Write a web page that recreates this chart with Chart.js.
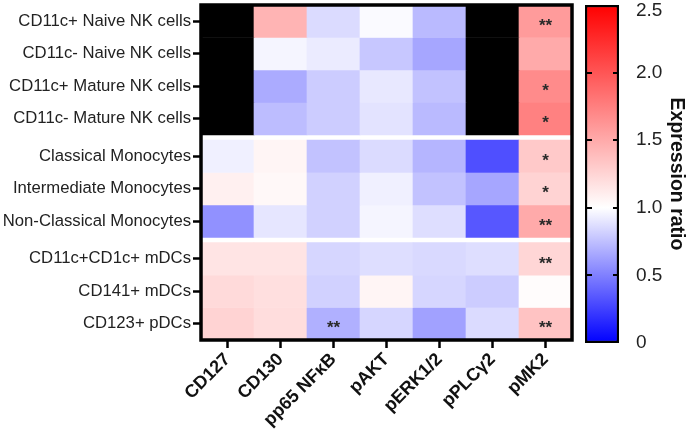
<!DOCTYPE html>
<html>
<head>
<meta charset="utf-8">
<script src="https://cdn.jsdelivr.net/npm/chart.js@4.4.1/dist/chart.umd.min.js"></script>
<style>
  html, body { margin:0; padding:0; background:#fff; }
  #wrap { position:relative; width:688px; height:433px; overflow:hidden; }
  #heatBox { position:absolute; left:0; top:0; width:580px; height:433px; }
  #barBox  { position:absolute; left:578px; top:0; width:110px; height:433px; }
</style>
</head>
<body>
<div id="wrap">
  <div id="heatBox"><canvas id="heat"></canvas></div>
  <div id="barBox"><canvas id="scaleBar"></canvas></div>
</div>
<script>
const rowLabels = [
  'CD11c+ Naive NK cells', 'CD11c- Naive NK cells', 'CD11c+ Mature NK cells', 'CD11c- Mature NK cells',
  'Classical Monocytes', 'Intermediate Monocytes', 'Non-Classical Monocytes',
  'CD11c+CD1c+ mDCs', 'CD141+ mDCs', 'CD123+ pDCs'
];
const colLabels = ['CD127', 'CD130', 'pp65 NFκB', 'pAKT', 'pERK1/2', 'pPLCγ2', 'pMK2'];

// expression ratio per column (null = not measured, drawn black)
const cd127 = [null, null, null, null, 0.94, 1.09, 0.57, 1.16, 1.22, 1.26];
const cd130 = [1.44, 0.96, 0.67, 0.74, 1.06, 1.04, 0.90, 1.16, 1.19, 1.20];
const pp65  = [0.86, 0.92, 0.80, 0.80, 0.76, 0.82, 0.82, 0.84, 0.82, 0.69];
const pakt  = [0.98, 0.78, 0.91, 0.89, 0.86, 0.94, 0.96, 0.87, 1.06, 0.84];
const perk  = [0.73, 0.65, 0.76, 0.73, 0.71, 0.76, 0.87, 0.85, 0.84, 0.63];
const pplc  = [null, null, null, null, 0.31, 0.65, 0.34, 0.87, 0.80, 0.86];
const pmk2  = [1.59, 1.50, 1.68, 1.74, 1.32, 1.26, 1.50, 1.24, 1.02, 1.35];

const starsPp65 = ['', '', '', '', '', '', '', '', '', '**'];
const starsPmk2 = ['**', '', '*', '*', '*', '*', '**', '**', '', '**'];

const scaleTicks = [0, 0.5, 1.0, 1.5, 2.0, 2.5];

const columns = [cd127, cd130, pp65, pakt, perk, pplc, pmk2];
const stars   = [null, null, starsPp65, null, null, null, starsPmk2];

// row groups separated by a white band
const groups = [4, 3, 3];
const GAP = 0.16;
const rowStart = [];
groups.forEach((n, g) => {
  for (let i = 0; i < n; i++) rowStart.push(rowStart.length + g * GAP);
});
const rowCenter = rowStart.map(s => s + 0.5);
const yMax = rowLabels.length + (groups.length - 1) * GAP;

function colorFor(v) {
  if (v == null) return '#000000';
  if (v <= 1) {
    const c = Math.round(255 * Math.max(0, v));
    return `rgb(${c},${c},255)`;
  }
  const t = Math.min(1, (v - 1) / 1.5);
  const c = Math.round(255 * (1 - t));
  return `rgb(255,${c},${c})`;
}

const FONT = "'Liberation Sans', Arial, sans-serif";

const datasets = rowLabels.map((lbl, r) => ({
  label: lbl,
  data: colLabels.map(() => [rowStart[r], rowStart[r] + 1]),
  backgroundColor: columns.map(col => colorFor(col[r])),
  borderWidth: 0,
  barPercentage: 1,
  categoryPercentage: 1,
  grouped: false
}));

const framePlugin = {
  id: 'frame',
  afterDatasetsDraw(chart) {
    const { ctx, chartArea: a, scales } = chart;
    ctx.save();
    // significance stars
    ctx.fillStyle = '#2a2a2a';
    ctx.font = `bold 17px ${FONT}`;
    ctx.textAlign = 'center';
    ctx.textBaseline = 'middle';
    stars.forEach((col, j) => {
      if (!col) return;
      col.forEach((s, r) => {
        if (!s) return;
        ctx.fillText(s, scales.x.getPixelForValue(j), scales.y.getPixelForValue(rowCenter[r]) + 5);
      });
    });
    ctx.strokeStyle = '#000';
    ctx.lineWidth = 3.5;
    ctx.strokeRect(a.left, a.top, a.right - a.left, a.bottom - a.top);
    ctx.restore();
  }
};

new Chart(document.getElementById('heat'), {
  type: 'bar',
  data: { labels: colLabels, datasets },
  options: {
    responsive: true,
    maintainAspectRatio: false,
    animation: false,
    layout: { padding: { top: 5, right: 8, left: 0, bottom: 0 } },
    plugins: { legend: { display: false }, tooltip: { enabled: false } },
    scales: {
      x: {
        type: 'category',
        afterFit: s => { s.height = 93; s.paddingLeft = 0; s.paddingRight = 0; },
        border: { display: false },
        grid: { offset: false, drawOnChartArea: false, tickLength: 8, tickWidth: 2.5, tickColor: '#000' },
        ticks: { color: '#111', font: { family: FONT, size: 18, weight: 'bold' }, minRotation: 45, maxRotation: 45, padding: 1 }
      },
      y: {
        type: 'linear',
        min: 0,
        max: yMax,
        reverse: true,
        afterFit: s => { s.width = 201; s.paddingTop = 0; s.paddingBottom = 0; },
        afterBuildTicks: s => { s.ticks = rowCenter.map(v => ({ value: v })); },
        border: { display: false },
        grid: { drawOnChartArea: false, tickLength: 8, tickWidth: 2.5, tickColor: '#000' },
        ticks: {
          autoSkip: false,
          color: '#222',
          padding: 2,
          font: { family: FONT, size: 16.7 },
          callback: v => rowLabels[rowCenter.findIndex(c => Math.abs(c - v) < 1e-6)]
        }
      }
    }
  },
  plugins: [framePlugin]
});

/* ── colour scale bar ── */
const barTicksPlugin = {
  id: 'barTicks',
  afterDatasetsDraw(chart) {
    const { ctx, chartArea: a, scales } = chart;
    ctx.save();
    ctx.strokeStyle = '#000';
    ctx.lineWidth = 2;
    scaleTicks.slice(1, -1).forEach(v => {
      const y = Math.round(scales.y.getPixelForValue(v));
      ctx.beginPath();
      ctx.moveTo(a.left, y); ctx.lineTo(a.left + 7, y);
      ctx.moveTo(a.right - 6, y); ctx.lineTo(a.right, y);
      ctx.stroke();
    });
    ctx.restore();
  }
};

const topTick = scaleTicks[scaleTicks.length - 1];

new Chart(document.getElementById('scaleBar'), {
  type: 'bar',
  data: {
    labels: [''],
    datasets: [{
      data: [[scaleTicks[0], topTick]],
      backgroundColor: ctx => {
        const a = ctx.chart.chartArea;
        if (!a) return '#fff';
        const g = ctx.chart.ctx.createLinearGradient(0, a.bottom, 0, a.top);
        g.addColorStop(0, colorFor(0));
        g.addColorStop(0.4, colorFor(1));
        g.addColorStop(1, colorFor(2.5));
        return g;
      },
      borderColor: '#000',
      borderWidth: 2.5,
      borderSkipped: false,
      barPercentage: 1,
      categoryPercentage: 1
    }]
  },
  options: {
    responsive: true,
    maintainAspectRatio: false,
    animation: false,
    layout: { padding: { top: 5, left: 7, bottom: 90, right: 0 } },
    plugins: { legend: { display: false }, tooltip: { enabled: false } },
    scales: {
      x: { display: false },
      y: {
        position: 'right',
        min: 0,
        max: topTick,
        afterFit: s => { s.width = 69; s.paddingTop = 0; s.paddingBottom = 0; },
        afterBuildTicks: s => { s.ticks = scaleTicks.map(v => ({ value: v })); },
        border: { display: false },
        grid: { display: false },
        ticks: {
          color: '#222',
          padding: 9,
          font: { family: FONT, size: 19, lineHeight: 0.6 },
          // top label sits a little below its tick so it stays inside the page
          callback: v => v === 0 ? '0' : (v === topTick ? ['', v.toFixed(1)] : v.toFixed(1))
        },
        title: {
          display: true,
          text: 'Expression ratio',
          color: '#111',
          font: { family: FONT, size: 19.5, weight: 'bold', lineHeight: 1.2 },
          padding: { top: 0, bottom: 4 }
        }
      }
    }
  },
  plugins: [barTicksPlugin]
});
</script>
</body>
</html>
